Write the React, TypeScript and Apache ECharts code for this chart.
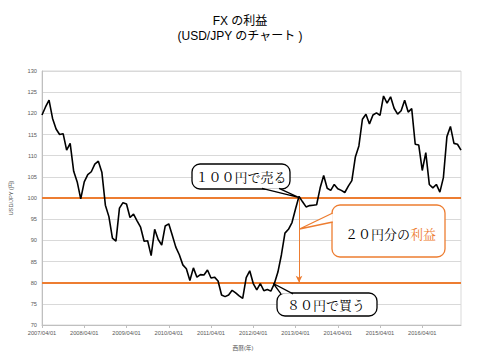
import React, { useEffect, useRef } from "react";
import * as echarts from "echarts";

const startYear = 2007;
const startMonth = 4;
const usdJpy: number[] = [
  // 2007/04 - 2007/12
  119.6, 121.5, 123.1, 118.8, 116.3, 115.0, 115.2, 111.3, 112.9,
  // 2008
  106.3, 103.8, 99.8, 103.8, 105.5, 106.2, 108.0, 108.7, 106.1, 98.3, 95.6, 90.5,
  // 2009
  89.8, 97.6, 98.9, 98.6, 95.4, 96.2, 94.6, 93.1, 89.8, 89.9, 86.4, 92.6,
  // 2010
  90.2, 88.9, 93.4, 93.9, 91.2, 88.4, 86.6, 84.2, 83.3, 80.5, 83.5, 81.3,
  // 2011
  81.9, 81.8, 83.0, 81.1, 81.3, 80.4, 77.1, 76.7, 77.1, 78.2, 77.6, 76.9,
  // 2012
  76.3, 81.2, 82.8, 79.8, 78.3, 79.8, 78.1, 78.4, 78.0, 79.8, 82.5, 86.6,
  // 2013
  91.7, 92.6, 94.2, 97.4, 100.4, 99.1, 97.9, 98.2, 98.3, 98.4, 102.4, 105.3,
  // 2014
  102.3, 101.8, 103.2, 102.2, 101.8, 101.3, 102.8, 104.1, 109.7, 112.3, 118.6, 119.8,
  // 2015
  117.5, 119.6, 120.1, 119.5, 124.1, 122.4, 123.9, 121.2, 119.8, 120.6, 123.1, 120.3,
  // 2016
  121.1, 112.7, 112.5, 106.5, 110.7, 103.2, 102.4, 103.2, 101.4, 104.8, 114.5, 116.9,
  // 2017/01 - 2017/03
  112.9, 112.7, 111.3,
];
const dates: string[] = usdJpy.map((_, i) => {
  const m0 = startMonth - 1 + i;
  const y = startYear + Math.floor(m0 / 12);
  const m = (m0 % 12) + 1;
  return `${y}/${m < 10 ? "0" + m : m}/01`;
});
const sellPrice = 100;
const buyPrice = 80;
const tradeDate = "2013/05/01";
const titleLines = ["FX の利益", "(USD/JPY のチャート )"];
const yAxisName = "USD/JPY (円)";
const xAxisName = "西暦(年)";
const sellText = "１００円で売る";
const buyText = "８０円で買う";
const profitText1 = "２０円分の";
const profitText2 = "利益";

const ORANGE = "#ED7D31";
const CJK = '"Noto Serif CJK JP", "Liberation Serif", "Noto Sans CJK JP", serif';
const SANS = '"Liberation Sans", Arial, "Noto Sans CJK JP", sans-serif';

function callout(
  box: { x: number; y: number; w: number; h: number },
  base1: number[],
  tip: number[],
  base2: number[],
  color: string,
  children: any[]
) {
  return {
    type: "group",
    children: [
      {
        type: "rect",
        shape: { x: box.x, y: box.y, width: box.w, height: box.h, r: 8 },
        style: { fill: "#fff", stroke: color, lineWidth: 1.3 },
        z: 100,
      },
      {
        type: "polygon",
        shape: { points: [base1, tip, base2] },
        style: { fill: "#fff", stroke: null },
        z: 101,
      },
      {
        type: "polyline",
        shape: { points: [base1, tip, base2] },
        style: { fill: null, stroke: color, lineWidth: 1.3 },
        z: 102,
      },
      ...children,
    ],
  };
}

export default function App() {
  const ref = useRef<HTMLDivElement>(null);
  useEffect(() => {
    if (!ref.current) return;
    const chart = echarts.init(ref.current, undefined, { renderer: "svg" });
    chart.setOption({
      animation: false,
      backgroundColor: "#fff",
      grid: {
        left: 42,
        right: 19,
        top: 71,
        bottom: 35,
        show: true,
        borderColor: "#d9d9d9",
        borderWidth: 1,
      },
      xAxis: {
        type: "category",
        data: dates,
        boundaryGap: false,
        axisLine: { lineStyle: { color: "#bfbfbf" } },
        axisTick: { interval: 11, length: 3, lineStyle: { color: "#bfbfbf" } },
        axisLabel: {
          interval: 11,
          fontSize: 5.7,
          color: "#595959",
          fontFamily: SANS,
          margin: 5,
        },
        splitLine: { show: false },
      },
      yAxis: {
        type: "value",
        min: 70,
        max: 130,
        interval: 5,
        name: yAxisName,
        nameLocation: "middle",
        nameRotate: 90,
        nameGap: 28,
        nameTextStyle: { fontSize: 5.7, color: "#595959", fontFamily: SANS },
        axisLine: { show: true, lineStyle: { color: "#bfbfbf" } },
        axisTick: { show: false },
        axisLabel: { fontSize: 5.7, color: "#595959", fontFamily: SANS, margin: 5 },
        splitLine: { lineStyle: { color: "#d9d9d9", width: 1 } },
      },
      series: [
        {
          type: "line",
          data: usdJpy,
          showSymbol: false,
          color: "#000",
          lineStyle: { color: "#000", width: 1.6 },
          z: 5,
          markLine: {
            silent: true,
            symbol: "none",
            label: { show: false },
            z: 3,
            lineStyle: { color: ORANGE, width: 2, type: "solid" },
            data: [{ yAxis: sellPrice }, { yAxis: buyPrice }],
          },
        },
        {
          type: "line",
          data: [],
          color: ORANGE,
          z: 6,
          markLine: {
            silent: true,
            symbol: ["none", "arrow"],
            symbolSize: [5, 7],
            label: { show: false },
            lineStyle: { color: ORANGE, width: 1, type: "solid" },
            itemStyle: { color: ORANGE },
            data: [[{ coord: [tradeDate, sellPrice] }, { coord: [tradeDate, buyPrice] }]],
          },
        },
      ],
      graphic: [
        {
          type: "text",
          x: 240,
          y: 21,
          style: {
            text: titleLines[0],
            fontSize: 12,
            fill: "#000",
            align: "center",
            verticalAlign: "middle",
            fontFamily: SANS,
          },
        },
        {
          type: "text",
          x: 240,
          y: 35.5,
          style: {
            text: titleLines[1],
            fontSize: 12,
            fill: "#000",
            align: "center",
            verticalAlign: "middle",
            fontFamily: SANS,
          },
        },
        {
          type: "text",
          x: 243,
          y: 348,
          style: {
            text: xAxisName,
            fontSize: 5.7,
            fill: "#595959",
            align: "center",
            verticalAlign: "middle",
            fontFamily: SANS,
          },
        },
        callout(
          { x: 192, y: 164, w: 98, h: 25 },
          [262, 188.3],
          [298.5, 197.3],
          [279, 188.3],
          "#000",
          [
            {
              type: "text",
              x: 241,
              y: 176.5,
              z: 103,
              style: {
                text: sellText,
                fontSize: 13,
                fill: "#000",
                align: "center",
                verticalAlign: "middle",
                fontFamily: CJK,
              },
            },
          ]
        ),
        callout(
          { x: 277, y: 293, w: 100, h: 23 },
          [281, 293.8],
          [273.3, 283.5],
          [293, 293.8],
          "#000",
          [
            {
              type: "text",
              x: 326,
              y: 304.5,
              z: 103,
              style: {
                text: buyText,
                fontSize: 13,
                fill: "#000",
                align: "center",
                verticalAlign: "middle",
                fontFamily: CJK,
              },
            },
          ]
        ),
        callout(
          { x: 332, y: 205, w: 113, h: 52 },
          [332.8, 213],
          [299.5, 229],
          [332.8, 222],
          ORANGE,
          [
            {
              type: "text",
              x: 345,
              y: 233.5,
              z: 103,
              style: {
                text: profitText1,
                fontSize: 13,
                fill: "#000",
                align: "left",
                verticalAlign: "middle",
                fontFamily: CJK,
              },
            },
            {
              type: "text",
              x: 410,
              y: 233.5,
              z: 103,
              style: {
                text: profitText2,
                fontSize: 13,
                fill: ORANGE,
                align: "left",
                verticalAlign: "middle",
                fontFamily: CJK,
              },
            },
          ]
        ),
      ],
    });
    return () => chart.dispose();
  }, []);
  return <div ref={ref} style={{ width: 480, height: 360, position: "absolute", left: 0, top: 0 }} />;
}
